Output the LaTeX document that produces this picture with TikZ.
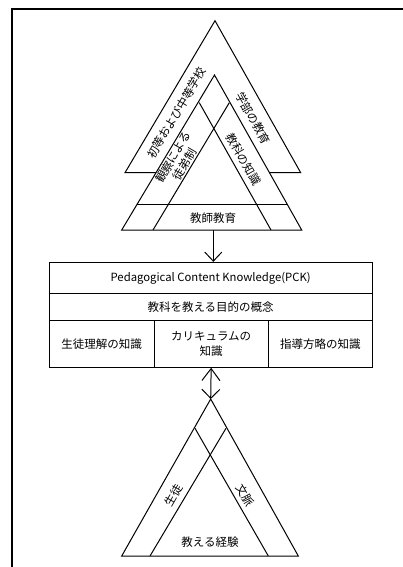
\documentclass[tikz,border=0pt]{standalone}
\usepackage{fontspec}
\setmainfont{Noto Sans CJK JP}
\usetikzlibrary{arrows.meta}
\tikzset{
  tri/.style={draw=black, line width=1pt, line join=miter},
  lbl/.style={font=\fontsize{11.5}{13}\selectfont, inner sep=0pt},
  cell/.style={draw=black, line width=0.9pt, inner sep=0pt, align=center,
    font=\fontsize{11.5}{15.4}\selectfont},
  frameline/.style={line width=1.7pt},
  downarrow/.style={line width=1pt, -{Straight Barb[length=9pt,width=17pt]}},
  twoarrow/.style={line width=1pt, {Straight Barb[length=12pt,width=18pt]}-{Straight Barb[length=9pt,width=18pt]}}
}
\begin{document}
\begin{tikzpicture}[x=1pt,y=-1pt]
\useasboundingbox (0,0) rectangle (403,567);
% frame (left and top edges)
\coordinate (fbl) at (11.7,567);
\coordinate (ftl) at (11.7,9.3);
\coordinate (ftr) at (403,9.3);
\draw[frameline] (fbl) -- (ftl) -- (ftr);

% ---------- top triangles ----------
\coordinate (aA) at (215,20.7);
\coordinate (aL) at (125,172.7);
\coordinate (aR) at (300.7,172.7);
\draw[tri] (aA) -- (aL) -- (aR) -- cycle;

\coordinate (bA) at (214.5,75);
\coordinate (bL) at (121.7,230);
\coordinate (bR) at (301.7,230);
\filldraw[tri, fill=white] (bA) -- (bL) -- (bR) -- cycle;
\coordinate (bbL) at (137.1,204.3);
\coordinate (bbR) at (287.3,204.3);
\draw[tri] (bbL) -- (bbR);
\coordinate (biR) at (229.3,102.7);
\coordinate (biRb) at (153,230);
\coordinate (biL) at (199.3,102.7);
\coordinate (biLb) at (271,230);
\draw[tri] (biR) -- (biRb);
\draw[tri] (biL) -- (biLb);

\node[lbl, rotate=59.5] (t1) at (176.5,113) {初等および中等学校};
\node[lbl, rotate=-60.5] (t2) at (253,118) {学部の教育};
\node[lbl, rotate=59.5, align=center, font=\fontsize{11.5}{13.5}\selectfont] (t3) at (178.8,160.5) {観察による\\徒弟制};
\node[lbl, rotate=-60.5] (t4) at (243.5,159) {教科の知識};
\node[lbl] (t5) at (213,218) {教師教育};

% ---------- PCK box ----------
\node[cell, minimum width=323.3pt, minimum height=31pt, font=\fontsize{11.3}{14}\selectfont] (pck) at (210.65,277.8) {Pedagogical Content Knowledge(PCK)};
\node[cell, minimum width=323.3pt, minimum height=27.4pt] (purpose) at (210.65,307) {教科を教える目的の概念};
\node[cell, minimum width=105pt, minimum height=46.6pt] (stu) at (101.5,344) {生徒理解の知識};
\node[cell, minimum width=114.3pt, minimum height=46.6pt] (cur) at (211.15,344) {カリキュラムの\\知識};
\node[cell, minimum width=104pt, minimum height=46.6pt] (strat) at (320.3,344) {指導方略の知識};

% arrows
\coordinate (bbase) at (213.3,230);
\draw[downarrow] (bbase) -- (bbase |- pck.north);

% ---------- bottom triangle ----------
\coordinate (cA) at (210.7,399);
\coordinate (cL) at (121.7,556);
\coordinate (cR) at (298.3,556);
\draw[tri] (cA) -- (cL) -- (cR) -- cycle;
\coordinate (ciR) at (226,428.3);
\coordinate (ciRb) at (150,556);
\coordinate (ciL) at (195,428.3);
\coordinate (ciLb) at (268.3,556);
\draw[tri] (ciR) -- (ciRb);
\draw[tri] (ciL) -- (ciLb);

\draw[twoarrow] (cur.south) -- (cA);

\node[lbl, rotate=60] (s1) at (173.3,495) {生徒};
\node[lbl, rotate=-60] (s2) at (245,495) {文脈};
\node[lbl] (s3) at (210,541.7) {教える経験};
\end{tikzpicture}
\end{document}
